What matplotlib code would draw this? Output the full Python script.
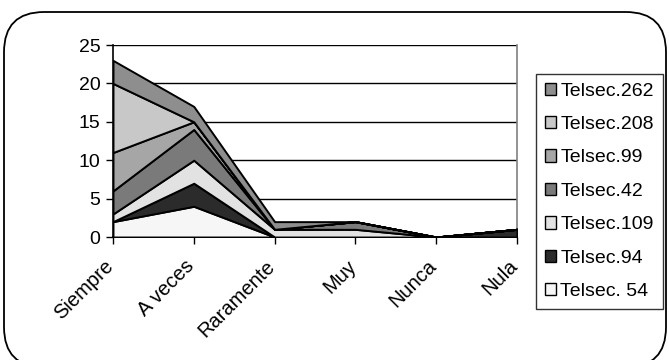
import matplotlib
matplotlib.use("Agg")
import matplotlib.pyplot as plt
import matplotlib.transforms as mtransforms
from matplotlib.patches import FancyBboxPatch, Patch

categories = ["Siempre", "A veces", "Raramente", "Muy", "Nunca", "Nula"]
series_names = ["Telsec. 54", "Telsec.94", "Telsec.109", "Telsec.42", "Telsec.99", "Telsec.208", "Telsec.262"]
t54 = [2, 4, 0, 0, 0, 0]
t94 = [0, 3, 0, 0, 0, 1]
t109 = [1, 3, 1, 1, 0, 0]
t42 = [3, 4, 0, 1, 0, 0]
t99 = [5, 1, 0, 0, 0, 0]
t208 = [9, 0, 0, 0, 0, 0]
t262 = [3, 2, 1, 0, 0, 0]
yticks = [0, 5, 10, 15, 20, 25]

colors = ["#f6f6f6", "#2b2b2b", "#e2e2e2", "#7a7a7a", "#a6a6a6", "#c8c8c8", "#8e8e8e"]

plt.rcParams['font.family'] = ['Liberation Sans', 'DejaVu Sans']

fig = plt.figure(figsize=(6.69, 3.60), dpi=100)
fig.patch.set_facecolor("white")

frame = FancyBboxPatch((4 / 669, -0.02), 662 / 669, (360 - 12) / 360 + 0.02,
                       boxstyle="round,pad=0,rounding_size=0.06",
                       transform=fig.transFigure, facecolor="none",
                       edgecolor="black", linewidth=1.3, mutation_aspect=669 / 360,
                       zorder=5)
fig.patches.append(frame)

ax = fig.add_axes([113 / 669, 123 / 360, 404 / 669, 192 / 360])
ax.set_facecolor("none")
x = list(range(len(categories)))
data = [t54, t94, t109, t42, t99, t208, t262]
ax.stackplot(x, *data, colors=colors, edgecolor="black", linewidth=1.4, zorder=3)

ax.set_xlim(0, len(categories) - 1)
ax.set_ylim(0, 25)
ax.set_yticks(yticks)
ax.set_xticks(x)
ax.set_xticklabels(categories, rotation=45, ha="right", rotation_mode="anchor", fontsize=14.5)
ax.tick_params(axis="y", labelsize=14, length=5, width=1, direction="out", pad=4)
ax.tick_params(axis="x", length=5, width=1, direction="out", pad=9)
offset = mtransforms.ScaledTranslation(-9 / 100, 0, fig.dpi_scale_trans)
for lbl in ax.get_xticklabels():
    lbl.set_transform(lbl.get_transform() + offset)
for v in yticks[1:]:
    ax.axhline(v, color="black", linewidth=1, zorder=1)
ax.spines["top"].set_visible(False)
ax.spines["right"].set_color("#808080")
ax.spines["right"].set_linewidth(1.2)
ax.spines["left"].set_linewidth(1.2)
ax.spines["bottom"].set_linewidth(1.2)

handles = [Patch(facecolor=c, edgecolor="black", linewidth=1) for c in colors]
leg = fig.legend(handles[::-1], series_names[::-1], loc="upper left",
                 bbox_to_anchor=(536 / 669, 1 - 74 / 360), fontsize=14,
                 frameon=True, fancybox=False, edgecolor="black",
                 handlelength=0.6, handleheight=0.6, handletextpad=0.2,
                 labelspacing=0.84, borderpad=0.45, borderaxespad=0)
leg.get_frame().set_linewidth(1)

fig.savefig("out.png", dpi=100, facecolor="white")
